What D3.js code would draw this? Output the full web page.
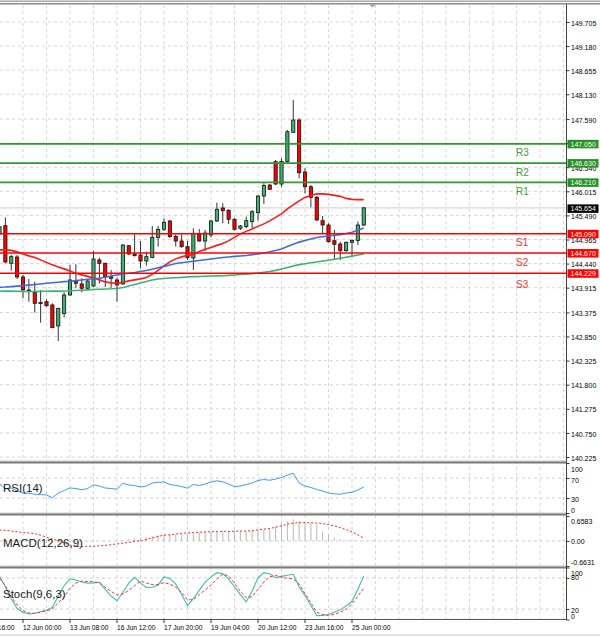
<!DOCTYPE html>
<html>
<head>
<meta charset="utf-8">
<script src="https://cdn.jsdelivr.net/npm/d3@7"></script>
<style>
body{margin:0;background:#fff}
svg{display:block;font-family:"Liberation Sans",Arial,sans-serif}
</style>
</head>
<body>
<svg id="chart" width="600" height="636"></svg>
<script>
// H4 bars, index 0..62 (last bar = 25 Jun 08:00)
let opens  = [145.085,145.266,144.447,144.584,144.148,143.865,143.815,143.592,143.610,143.538,143.081,143.352,143.756,144.061,143.996,143.902,143.952,144.519,144.447,144.155,144.083,143.996,144.830,144.649,144.627,144.497,144.573,145.009,145.187,145.369,145.031,144.932,144.808,144.562,145.085,144.932,145.063,145.369,145.652,145.602,145.406,145.210,145.245,145.354,145.549,145.913,146.152,146.661,146.174,146.661,147.301,147.569,146.436,146.115,145.884,145.375,145.281,144.939,144.867,144.721,144.904,144.943,145.281]
let highs  = [145.303,145.445,144.628,144.628,144.192,144.104,144.046,143.864,143.662,143.575,143.481,143.815,144.410,144.425,144.120,144.083,144.715,144.569,144.454,144.301,144.133,144.861,144.845,145.078,144.932,144.700,145.259,145.259,145.427,145.390,145.078,145.078,144.932,145.209,145.194,145.172,145.390,145.767,145.754,145.624,145.428,145.281,145.463,145.608,145.935,146.190,146.174,146.698,146.734,147.351,148.005,147.606,146.516,146.152,145.913,145.477,145.318,145.172,144.917,144.917,144.969,145.353,145.673]
let lows   = [145.042,144.442,144.285,144.105,143.684,143.610,143.371,143.153,143.501,143.031,142.754,143.265,143.741,143.902,143.815,143.887,143.930,144.007,143.933,143.911,143.610,143.975,144.627,144.591,144.337,144.394,144.556,144.810,145.150,145.004,144.810,144.787,144.519,144.301,144.917,144.714,145.013,145.347,145.318,145.303,145.158,145.172,145.210,145.210,145.375,145.739,146.044,146.152,146.115,146.639,147.292,146.298,145.970,145.667,145.375,145.085,144.895,144.531,144.519,144.700,144.591,144.845,145.259]
let closes = [145.244,144.475,144.591,144.149,143.865,143.843,143.575,143.570,143.523,143.044,143.460,143.756,144.083,144.011,143.902,144.061,144.540,144.447,144.155,144.120,143.975,144.845,144.649,144.616,144.497,144.591,145.013,145.187,145.340,145.026,144.932,144.808,144.569,145.100,144.932,145.106,145.369,145.623,145.593,145.406,145.188,145.260,145.375,145.571,145.913,146.142,146.059,146.174,146.665,147.314,147.569,146.420,146.115,145.884,145.390,145.281,144.917,144.861,144.721,144.904,144.943,145.281,145.654]

// moving averages
let maRed   = [144.738,144.738,144.728,144.695,144.651,144.608,144.575,144.521,144.466,144.412,144.368,144.325,144.281,144.227,144.194,144.161,144.128,144.085,144.041,144.019,144.008,144.030,144.063,144.085,144.107,144.139,144.205,144.292,144.390,144.477,144.543,144.586,144.619,144.641,144.706,144.750,144.793,144.837,144.880,144.935,145.011,145.088,145.142,145.196,145.251,145.305,145.371,145.447,145.523,145.632,145.719,145.807,145.883,145.926,145.959,145.959,145.948,145.926,145.905,145.861,145.839,145.835,145.835]
let maBlue  = [143.924,143.930,143.939,143.948,143.959,143.970,143.983,143.996,144.011,144.024,144.035,144.046,144.055,144.068,144.083,144.098,144.111,144.120,144.144,144.170,144.192,144.214,144.231,144.246,144.268,144.290,144.318,144.349,144.379,144.410,144.442,144.460,144.475,144.490,144.506,144.523,144.540,144.556,144.573,144.584,144.597,144.606,144.617,144.632,144.649,144.671,144.697,144.726,144.758,144.813,144.863,144.908,144.943,144.976,145.007,145.024,145.042,145.057,145.072,145.096,145.124,145.166,145.216]
let maGreen = [143.843,143.841,143.839,143.837,143.834,143.832,143.832,143.834,143.837,143.839,143.841,143.843,143.847,143.854,143.860,143.867,143.876,143.882,143.887,143.891,143.898,143.920,143.952,143.985,144.018,144.050,144.083,144.105,144.115,144.126,144.133,144.139,144.148,144.155,144.159,144.163,144.168,144.172,144.176,144.183,144.192,144.201,144.211,144.222,144.235,144.251,144.268,144.292,144.323,144.355,144.388,144.417,144.438,144.458,144.475,144.495,144.514,144.534,144.556,144.578,144.602,144.626,144.649]

// indicators
let rsi = [59,48,50,44,40,39.5,37.5,37,36,30.5,40,45,50,49,46.5,49,56,54,50,49,47.5,59.5,56,55,52,54,60,61.5,62,57,55,53,49.5,57,55,58,62,64.5,62.5,58,52.5,54,57,60,65,67,65.5,68,71,76,79.5,60,54,51,47,44,40,38.5,37.5,40,41.5,46,52]
let macdHist = [0.02,0.01,0,-0.01,-0.02,-0.03,-0.03,-0.04,-0.05,-0.05,-0.05,-0.04,-0.04,-0.03,-0.03,-0.02,-0.02,-0.01,-0.01,-0.01,-0.01,0.03,0.05,0.07,0.08,0.09,0.12,0.15,0.16,0.16,0.17,0.17,0.17,0.2,0.23,0.23,0.24,0.25,0.26,0.26,0.26,0.25,0.25,0.26,0.28,0.3,0.31,0.38,0.46,0.52,0.57,0.52,0.46,0.47,0.43,0.25,0.16,0.09,0.05,0.03,0.02,0.01,0.01]
let macdSignal = [0.29,0.28,0.26,0.24,0.22,0.21,0.19,0.15,0.1,0.05,0.01,-0.05,-0.11,-0.15,-0.15,-0.14,-0.14,-0.13,-0.12,-0.1,-0.08,-0.06,-0.04,-0.01,0.0,0.04,0.08,0.12,0.15,0.16,0.18,0.2,0.21,0.22,0.23,0.235,0.24,0.245,0.25,0.25,0.255,0.26,0.26,0.27,0.29,0.31,0.33,0.36,0.4,0.44,0.47,0.48,0.48,0.48,0.47,0.46,0.43,0.4,0.35,0.3,0.24,0.16,0.07]
let stochMain = [83,63,40,21,14,10.5,12,15,18.3,23,45,65,78,76,72,70,70.5,71.5,58,45,36,52,70,81,70,61.5,62,66,82,79,68,48,27,40,56,72,82,90,88,78,63,48,34,55,80,90,88,80.5,83,85,87,63,46,27,7.5,8,9.5,14,18.5,26,35,58,83]
let stochSignal = [79,65,44,28,17,12.5,12,14,16.5,20,32,44,60,70,74,73,72.5,70.5,62,54,47,49,56,65,74,70,67,67.5,71,68,62,52,38,38,48,57,66,78,87,84,70,54,42,44,58,72,82,85,81,79.5,78,68,50,32,14,9.5,7.5,10,14,20,30,45,60]

// axis labels
let priceTicks = [149.705,149.180,148.655,148.130,147.590,147.065,146.540,146.015,145.490,144.965,144.440,143.915,143.375,142.850,142.325,141.800,141.275,140.750,140.225]
let timeIdx = [-4,4,12,20,28,36,44,52,60]
let timeLabels = ["10 Jun 16:00","12 Jun 00:00","13 Jun 08:00","16 Jun 12:00","17 Jun 20:00","19 Jun 04:00","20 Jun 12:00","23 Jun 16:00","25 Jun 00:00"]
let levelNames  = ["R3","R2","R1","S1","S2","S3"]
let levelValues = [147.050,146.630,146.210,145.090,144.670,144.229]
let bid = 145.654

let svg = d3.select("#chart")
let W = 566.5

let x = d3.scaleLinear().domain([0,1]).range([-0.5,5.375])
let yPrice = d3.scaleLinear().domain([140.225,149.705]).range([457,22])
let yRsi   = d3.scaleLinear().domain([0,100]).range([513,463])
let yMacd  = d3.scaleLinear().domain([-0.6631,0.6583]).range([566,516])
let yStoch = d3.scaleLinear().domain([0,100]).range([619.5,567.5])

// clip per panel
let panels = [["cMain",4.5,460],["cRsi",463.5,513],["cMacd",515.5,566],["cStoch",568.5,619]]
let defs = svg.append("defs")
panels.forEach(p => {
    defs.append("clipPath").attr("id",p[0]).append("rect")
        .attr("x",0).attr("y",p[1]).attr("width",W).attr("height",p[2]-p[1])
})

// vertical grid every 4 bars
let grid = svg.append("g")
d3.range(4,97,4).forEach(i => {
    grid.append("line").attr("x1",x(i)).attr("x2",x(i)).attr("y1",5).attr("y2",619)
        .attr("stroke","#d6d6d6").attr("stroke-dasharray","3,3")
})
// horizontal grid
priceTicks.forEach(t => {
    grid.append("line").attr("x1",0).attr("x2",W).attr("y1",yPrice(t)).attr("y2",yPrice(t))
        .attr("stroke","#d6d6d6").attr("stroke-dasharray","3,3")
})
let subGrid = [[yRsi,70],[yRsi,30],[yMacd,0],[yStoch,80],[yStoch,20]]
subGrid.forEach(g => {
    grid.append("line").attr("x1",0).attr("x2",W).attr("y1",g[0](g[1])).attr("y2",g[0](g[1]))
        .attr("stroke","#cfcfcf").attr("stroke-dasharray","3,3")
})

// main panel
let main = svg.append("g").attr("clip-path","url(#cMain)")
main.append("line").attr("x1",0).attr("x2",W).attr("y1",yPrice(bid)).attr("y2",yPrice(bid))
    .attr("stroke","#cccccc")

let candles = main.selectAll(".c").data(opens).enter().append("g")
candles.append("line")
    .attr("x1",(d,i) => x(i)).attr("x2",(d,i) => x(i))
    .attr("y1",(d,i) => yPrice(highs[i])).attr("y2",(d,i) => yPrice(lows[i]))
    .attr("stroke","#333")
candles.append("rect")
    .attr("x",(d,i) => x(i)-1.6).attr("width",3.2)
    .attr("y",(d,i) => yPrice(Math.max(d,closes[i])))
    .attr("height",(d,i) => Math.max(1,Math.abs(yPrice(d)-yPrice(closes[i]))))
    .attr("fill",(d,i) => closes[i] >= d ? "#3cb371" : "#ff0000")
    .attr("stroke","#111").attr("stroke-width",0.8)

let maLine = d3.line().x((d,i) => x(i)).y(d => yPrice(d))
let mas = [[maRed,"#ff1a1a"],[maBlue,"#4169e1"],[maGreen,"#3cb371"]]
mas.forEach(m => {
    main.append("path").attr("d",maLine(m[0])).attr("fill","none")
        .attr("stroke",m[1]).attr("stroke-width",1.6)
})

// pivot levels
levelValues.forEach((v,i) => {
    let col = i < 3 ? "#2e9a2e" : "#ff0000"
    svg.append("line").attr("x1",0).attr("x2",W).attr("y1",yPrice(v)).attr("y2",yPrice(v))
        .attr("stroke",col).attr("stroke-width",i < 3 ? 1.8 : 1.6)
    svg.append("text").attr("x",516).attr("y",yPrice(v) + (i == 5 ? 15 : 12.5))
        .attr("font-size",10).attr("fill",i < 3 ? "#3a9f3a" : "#ff3030").text(levelNames[i])
})

// RSI
svg.append("path").attr("clip-path","url(#cRsi)")
    .attr("d",d3.line().x((d,i) => x(i)).y(d => yRsi(d))(rsi))
    .attr("fill","none").attr("stroke","#3d9bf5").attr("stroke-width",1)

// MACD
let macd = svg.append("g").attr("clip-path","url(#cMacd)")
macd.selectAll(".h").data(macdHist).enter().append("line")
    .attr("x1",(d,i) => x(i)).attr("x2",(d,i) => x(i))
    .attr("y1",yMacd(0)).attr("y2",d => yMacd(d))
    .attr("stroke","#b8b8b8")
macd.append("path").attr("d",d3.line().x((d,i) => x(i)).y(d => yMacd(d))(macdSignal))
    .attr("fill","none").attr("stroke","#ff2020").attr("stroke-dasharray","2,2")

// Stochastic
let sto = svg.append("g").attr("clip-path","url(#cStoch)")
sto.append("path").attr("d",d3.line().x((d,i) => x(i)).y(d => yStoch(d))(stochMain))
    .attr("fill","none").attr("stroke","#3cbfb0").attr("stroke-width",1.1)
sto.append("path").attr("d",d3.line().x((d,i) => x(i)).y(d => yStoch(d))(stochSignal))
    .attr("fill","none").attr("stroke","#ff3030").attr("stroke-dasharray","3,2")

// indicator names
let names = [["RSI(14)",492],["MACD(12,26,9)",547],["Stoch(9,6,3)",598]]
names.forEach(n => {
    svg.append("text").attr("x",3).attr("y",n[1]).attr("font-size",11.5).attr("fill","#1a1a1a").text(n[0])
})

// frame and separators
svg.append("rect").attr("x",0).attr("y",0).attr("width",600).attr("height",1).attr("fill","#d0d0d0")
svg.append("rect").attr("x",0).attr("y",1).attr("width",600).attr("height",1).attr("fill","#a8a8a8")
svg.append("rect").attr("x",0).attr("y",3).attr("width",600).attr("height",1.5).attr("fill","#8c8c8c")
;[461.5,513.5,566.5].forEach(s => {
    svg.append("rect").attr("x",0).attr("y",s-1).attr("width",W).attr("height",1).attr("fill","#c8c8c8")
    svg.append("rect").attr("x",0).attr("y",s).attr("width",W).attr("height",2).attr("fill","#7a7a7a")
})
svg.append("line").attr("x1",0).attr("x2",W).attr("y1",619.5).attr("y2",619.5).attr("stroke","#555")
svg.append("line").attr("x1",W).attr("x2",W).attr("y1",4).attr("y2",620).attr("stroke","#444")
svg.append("rect").attr("x",0).attr("y",634).attr("width",600).attr("height",2).attr("fill","#e4e4e4")
svg.append("path").attr("d","M369,4.5 L376,4.5 L372.5,7.5 Z").attr("fill","#a0a0a0")

// price axis
let ax = svg.append("g").attr("transform",`translate(${W},0)`)
    .call(d3.axisRight(yPrice).tickValues(priceTicks).tickSize(3).tickFormat(d3.format(".3f")))
ax.select(".domain").remove()
ax.selectAll("text").attr("font-size",7).attr("font-family","Liberation Sans, Arial").attr("x",4.5).attr("dy","0.45em")
ax.selectAll("line").attr("stroke","#333")

function subAxis(scale, vals, fmt, shifts) {
    let g = svg.append("g").attr("transform",`translate(${W},0)`)
        .call(d3.axisRight(scale).tickValues(vals).tickSize(3).tickFormat((d,i) => fmt[i]))
    g.select(".domain").remove()
    g.selectAll("line").attr("stroke","#333")
    g.selectAll("text").attr("font-size",7).attr("font-family","Liberation Sans, Arial").attr("x",4.5)
        .attr("dy",(d,i) => (0.45*7 + shifts[i]) + "px")
}
subAxis(yRsi,[100,70,30,0],["100","70","30","0"],[5,1,0.5,-4])
subAxis(yMacd,[0.6583,0,-0.6631],["0.6583","0.00","-0.6631"],[4.5,-0.5,-5])
subAxis(yStoch,[100,80,20,0],["100","80","20","0"],[4.8,-1.2,0,-4.5])

// level boxes on the axis
levelValues.forEach((v,i) => {
    svg.append("rect").attr("x",W+1).attr("y",yPrice(v)-4).attr("width",31).attr("height",8.5)
        .attr("fill",i < 3 ? "#259225" : "#ff0000")
    svg.append("text").attr("x",W+4).attr("y",yPrice(v)+2.8).attr("font-size",7)
        .attr("fill","#fff").text(v.toFixed(3))
})
svg.append("rect").attr("x",W+1).attr("y",yPrice(bid)-3.5).attr("width",31).attr("height",8.5).attr("fill","#000")
svg.append("text").attr("x",W+4).attr("y",yPrice(bid)+3.3).attr("font-size",7).attr("fill","#fff").text(bid.toFixed(3))

// time axis
timeIdx.forEach((t,i) => {
    svg.append("line").attr("x1",x(t)).attr("x2",x(t)).attr("y1",619.5).attr("y2",623).attr("stroke","#333")
    svg.append("text").attr("x",x(t)).attr("y",629.5).attr("font-size",7)
        .attr("textLength",38.5).attr("lengthAdjust","spacingAndGlyphs").text(timeLabels[i])
})
</script>
</body>
</html>
